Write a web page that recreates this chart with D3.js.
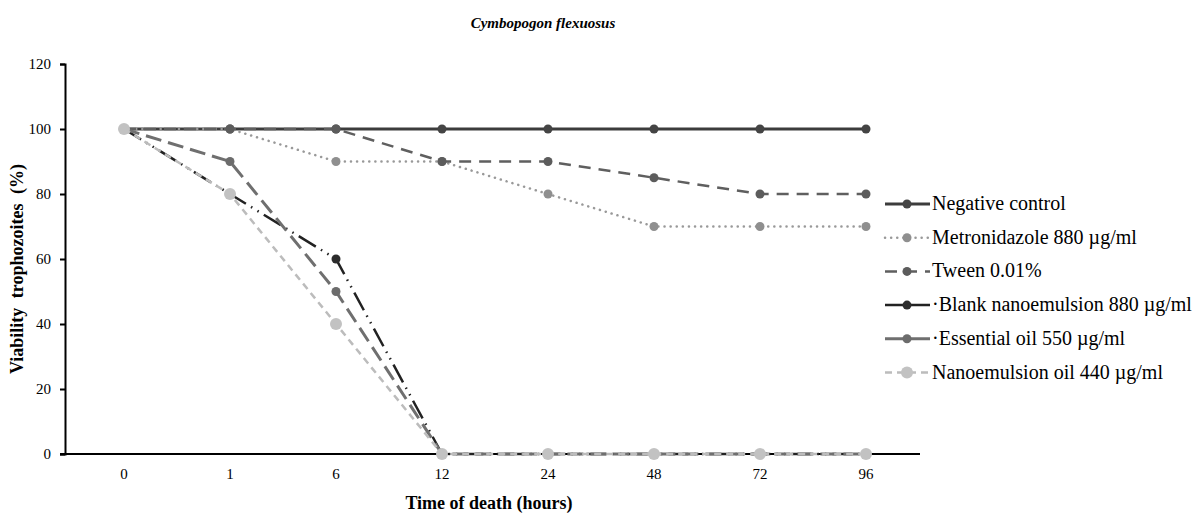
<!DOCTYPE html>
<html lang="en">
<head>
<meta charset="UTF-8">
<title>Cymbopogon flexuosus</title>
<style>
  body { margin: 0; background: #fff; }
  text { font-family: "Liberation Serif", "Times New Roman", serif; }
</style>
</head>
<body>
<script src="https://d3js.org/d3.v7.min.js"></script>
<script>
// data
var hours = ["0", "1", "6", "12", "24", "48", "72", "96"];
var yTicks = [0, 20, 40, 60, 80, 100, 120];
var seriesNames = ["Negative control", "Metronidazole 880 \u00b5g/ml", "Tween 0.01%",
  "\u00b7Blank nanoemulsion 880 \u00b5g/ml", "\u00b7Essential oil 550 \u00b5g/ml", "Nanoemulsion oil 440 \u00b5g/ml"];
var negativeControl = [100, 100, 100, 100, 100, 100, 100, 100];
var metronidazole   = [100, 100, 90, 90, 80, 70, 70, 70];
var tween           = [100, 100, 100, 90, 90, 85, 80, 80];
var blankNano       = [100, 80, 60, 0, 0, 0, 0, 0];
var essentialOil    = [100, 90, 50, 0, 0, 0, 0, 0];
var nanoOil         = [100, 80, 40, 0, 0, 0, 0, 0];
var allValues = [negativeControl, metronidazole, tween, blankNano, essentialOil, nanoOil];

// styles per series
var styles = [
  { color: "#3c3c3c", mark: "#444", width: 3, dash: null, r: 4.5, cap: "butt" },
  { color: "#999999", mark: "#8f8f8f", width: 2.5, dash: "0.1,6", r: 4.5, cap: "round" },
  { color: "#5f5f5f", mark: "#5c5c5c", width: 2.5, dash: "12,8", r: 4.5, cap: "butt" },
  { color: "#222222", mark: "#2c2c2c", width: 2.5, dash: "20,6,1.5,6,1.5,6", r: 4.5, cap: "butt" },
  { color: "#6f6f6f", mark: "#6c6c6c", width: 3, dash: "16,7", r: 4.5, cap: "butt" },
  { color: "#bcbcbc", mark: "#c2c2c2", width: 2.5, dash: "7,5", r: 6, cap: "butt" }
];
var legendDash = [null, "0.1,6", "12,8", null, null, "7,5"];

var W = 1192, H = 515;
var svg = d3.select("body").append("svg").attr("width", W).attr("height", H);

var x = d3.scaleBand().domain(hours).range([71, 919]);
var y = d3.scaleLinear().domain([0, 120]).range([454, 64]);
var xc = function(d, i) { return x(hours[i]) + x.bandwidth() / 2; };

// title
svg.append("text").attr("x", 543).attr("y", 28).attr("text-anchor", "middle")
  .style("font-size", "15px").style("font-weight", "bold").style("font-style", "italic")
  .text("Cymbopogon flexuosus");

// y axis
var yAxis = svg.append("g").attr("transform", "translate(65,0)")
  .call(d3.axisLeft(y).tickValues(yTicks).tickSize(5).tickPadding(9))
  .attr("font-size", 15).attr("font-family", "Liberation Serif");
yAxis.select(".domain").attr("stroke", "#000").attr("stroke-width", 2);
yAxis.selectAll(".tick line").attr("stroke", "#000").attr("stroke-width", 2);
yAxis.selectAll("text").attr("fill", "#000");

// x axis
var xAxis = svg.append("g").attr("transform", "translate(0,454)")
  .call(d3.axisBottom(x).tickSize(0).tickPadding(14))
  .attr("font-size", 15).attr("font-family", "Liberation Serif");
xAxis.select(".domain").attr("d", "M60,0H920").attr("stroke", "#000").attr("stroke-width", 2);
xAxis.selectAll("text").attr("fill", "#000");

// axis titles
svg.append("text").attr("x", 489).attr("y", 509).attr("text-anchor", "middle")
  .style("font-size", "18px").style("font-weight", "bold").text("Time of death (hours)");
svg.append("text").attr("transform", "translate(23,269) rotate(-90)").attr("text-anchor", "middle")
  .style("font-size", "18px").style("font-weight", "bold").style("word-spacing", "5px")
  .text("Viability trophozoites (%)");

// lines
var line = d3.line().x(xc).y(function(d) { return y(d); });
allValues.forEach(function(vals, s) {
  var st = styles[s];
  var g = svg.append("g");
  g.append("path").datum(vals).attr("d", line).attr("fill", "none")
    .attr("stroke", st.color).attr("stroke-width", st.width)
    .attr("stroke-dasharray", st.dash).attr("stroke-linecap", st.cap);
  g.selectAll("circle").data(vals).enter().append("circle")
    .attr("cx", xc).attr("cy", function(d) { return y(d); })
    .attr("r", st.r).attr("fill", st.mark);
});

// legend
var legend = svg.append("g");
seriesNames.forEach(function(name, s) {
  var st = styles[s];
  var ly = 204 + s * 33.7;
  legend.append("line").attr("x1", 885).attr("x2", 930).attr("y1", ly).attr("y2", ly)
    .attr("stroke", st.color).attr("stroke-width", st.width)
    .attr("stroke-dasharray", legendDash[s]).attr("stroke-linecap", st.cap);
  legend.append("circle").attr("cx", 907).attr("cy", ly).attr("r", st.r).attr("fill", st.mark);
  legend.append("text").attr("x", 932).attr("y", ly + 6)
    .style("font-size", "20px").attr("fill", "#000").text(name);
});
</script>
</body>
</html>
